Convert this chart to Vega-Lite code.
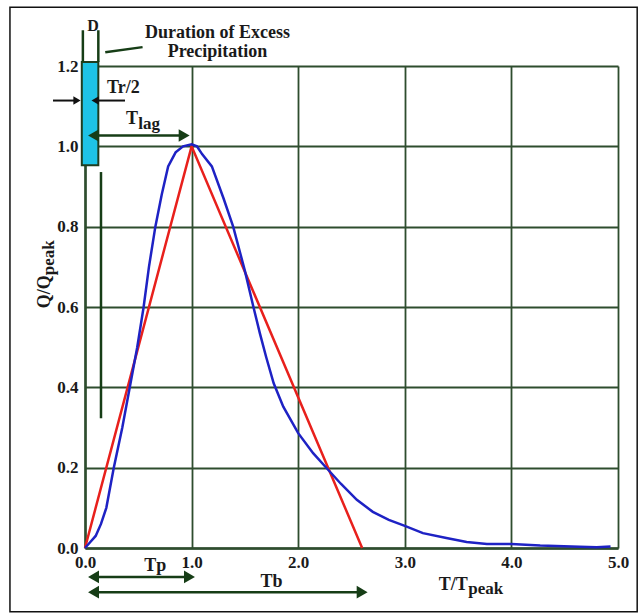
{
  "$schema": "https://vega.github.io/schema/vega-lite/v6.json",
  "width": 533,
  "height": 482,
  "autosize": {"type": "none"},
  "padding": {"left": 85, "top": 66, "right": 26, "bottom": 68},
  "background": "white",
  "config": {
    "view": {"stroke": null},
    "font": "Liberation Serif",
    "axis": {
      "labelFont": "Liberation Serif",
      "labelFontWeight": "bold",
      "labelFontSize": 17,
      "labelColor": "#1a1a1a",
      "labelFlush": false,
      "labelOverlap": false,
      "ticks": false,
      "grid": true,
      "gridColor": "#2e4d2e",
      "gridWidth": 1.8,
      "gridOpacity": 1,
      "domainColor": "#2e4d2e",
      "domainWidth": 2.5,
      "title": null,
      "format": ".1f"
    }
  },
  "datasets": {
    "su": [
      {"t": 0, "q": 0}, {"t": 0.05, "q": 0.015}, {"t": 0.1, "q": 0.03}, {"t": 0.15, "q": 0.06},
      {"t": 0.2, "q": 0.1}, {"t": 0.27, "q": 0.2}, {"t": 0.35, "q": 0.3}, {"t": 0.42, "q": 0.4},
      {"t": 0.49, "q": 0.5}, {"t": 0.55, "q": 0.6}, {"t": 0.6, "q": 0.7}, {"t": 0.66, "q": 0.8},
      {"t": 0.72, "q": 0.88}, {"t": 0.78, "q": 0.95}, {"t": 0.85, "q": 0.985}, {"t": 0.92, "q": 1.0},
      {"t": 1.0, "q": 1.005}, {"t": 1.05, "q": 1.0}, {"t": 1.1, "q": 0.98}, {"t": 1.19, "q": 0.95},
      {"t": 1.3, "q": 0.87}, {"t": 1.39, "q": 0.8}, {"t": 1.5, "q": 0.69}, {"t": 1.58, "q": 0.6},
      {"t": 1.64, "q": 0.535}, {"t": 1.7, "q": 0.475}, {"t": 1.77, "q": 0.41}, {"t": 1.86, "q": 0.352},
      {"t": 2.0, "q": 0.286}, {"t": 2.14, "q": 0.236}, {"t": 2.27, "q": 0.198}, {"t": 2.4, "q": 0.16},
      {"t": 2.55, "q": 0.12}, {"t": 2.7, "q": 0.09}, {"t": 2.85, "q": 0.07}, {"t": 3.0, "q": 0.055},
      {"t": 3.17, "q": 0.037}, {"t": 3.39, "q": 0.025}, {"t": 3.58, "q": 0.015}, {"t": 3.77, "q": 0.01},
      {"t": 4.0, "q": 0.01}, {"t": 4.27, "q": 0.006}, {"t": 4.64, "q": 0.003}, {"t": 4.8, "q": 0.002},
      {"t": 4.93, "q": 0.004}
    ],
    "tri": [{"t": 0, "q": 0}, {"t": 1, "q": 1}, {"t": 2.6, "q": 0}],
    "frame": [{"x": -0.704, "x2": 5.18, "y": 1.346, "y2": -0.159}],
    "box": [{"x": -0.03, "x2": 0.125, "y": 0.953, "y2": 1.21}],
    "greenSegs": [
      {"seg": "d1", "x": -0.02, "y": 1.21}, {"seg": "d1", "x": -0.02, "y": 1.289},
      {"seg": "d2", "x": 0.125, "y": 1.21}, {"seg": "d2", "x": 0.125, "y": 1.289},
      {"seg": "low", "x": 0.15, "y": 0.936}, {"seg": "low", "x": 0.15, "y": 0.323},
      {"seg": "lead", "x": 0.19, "y": 1.234}, {"seg": "lead", "x": 0.54, "y": 1.247},
      {"seg": "tlag", "x": 0.07, "y": 1.027}, {"seg": "tlag", "x": 0.94, "y": 1.027},
      {"seg": "tp", "x": 0.06, "y": -0.072}, {"seg": "tp", "x": 0.99, "y": -0.072},
      {"seg": "tb", "x": 0.06, "y": -0.11}, {"seg": "tb", "x": 2.62, "y": -0.11}
    ],
    "blackSegs": [
      {"seg": "a", "x": -0.3, "y": 1.114}, {"seg": "a", "x": -0.07, "y": 1.114},
      {"seg": "b", "x": 0.09, "y": 1.114}, {"seg": "b", "x": 0.375, "y": 1.114}
    ],
    "greenHeads": [
      {"x": 0.08, "y": 1.027, "dir": "left"}, {"x": 0.93, "y": 1.027, "dir": "right"},
      {"x": 0.08, "y": -0.072, "dir": "left"}, {"x": 0.98, "y": -0.072, "dir": "right"},
      {"x": 0.08, "y": -0.11, "dir": "left"}, {"x": 2.6, "y": -0.11, "dir": "right"}
    ],
    "blackHeads": [
      {"x": -0.075, "y": 1.114, "dir": "right"}, {"x": 0.095, "y": 1.114, "dir": "left"}
    ],
    "labels": [
      {"x": 1.243, "y": 1.281, "label": "Duration of Excess"},
      {"x": 1.243, "y": 1.234, "label": "Precipitation"},
      {"x": 0.36, "y": 1.144, "label": "Tr/2"},
      {"x": 0.66, "y": -0.045, "label": "Tp"},
      {"x": 1.75, "y": -0.085, "label": "Tb"}
    ],
    "dLabel": [{"x": 0.075, "y": 1.30, "label": "D"}],
    "bigT": [
      {"x": 0.497, "y": 1.055, "label": "T"},
      {"x": 3.59, "y": -0.104, "label": "T/T"}
    ],
    "subs": [
      {"x": 0.5, "y": 1.042, "label": "lag"},
      {"x": 3.595, "y": -0.114, "label": "peak"}
    ],
    "yTitle": [{"x": -0.375, "y": 0.679, "label": "Q/Q"}],
    "ySub": [{"x": -0.34, "y": 0.679, "label": "peak"}]
  },
  "encoding": {
    "x": {"field": "x", "type": "quantitative", "scale": {"domain": [0, 5], "nice": false, "zero": false},
          "axis": {"values": [0, 1, 2, 3, 4, 5], "labelPadding": 6}},
    "y": {"field": "y", "type": "quantitative", "scale": {"domain": [0, 1.2], "nice": false, "zero": false},
          "axis": {"values": [0, 0.2, 0.4, 0.6, 0.8, 1.0, 1.2], "labelPadding": 7}}
  },
  "layer": [
    {
      "data": {"name": "frame"},
      "mark": {"type": "rect", "fill": null, "stroke": "#111111", "strokeWidth": 1.5},
      "encoding": {"x2": {"field": "x2"}, "y2": {"field": "y2"}}
    },
    {
      "data": {"name": "box"},
      "mark": {"type": "rect", "fill": "#1ec3e6", "stroke": "#1f3d1f", "strokeWidth": 2},
      "encoding": {"x2": {"field": "x2"}, "y2": {"field": "y2"}}
    },
    {
      "data": {"name": "greenSegs"},
      "mark": {"type": "line", "color": "#163d16", "strokeWidth": 2.5},
      "encoding": {"detail": {"field": "seg"}, "order": {"field": "x"}}
    },
    {
      "data": {"name": "blackSegs"},
      "mark": {"type": "line", "color": "#111111", "strokeWidth": 2},
      "encoding": {"detail": {"field": "seg"}}
    },
    {
      "data": {"name": "greenHeads"},
      "mark": {"type": "point", "filled": true, "color": "#163d16", "opacity": 1, "size": 160},
      "encoding": {"shape": {"field": "dir", "type": "nominal", "scale": {"domain": ["left", "right"], "range": ["triangle-left", "triangle-right"]}, "legend": null}}
    },
    {
      "data": {"name": "blackHeads"},
      "mark": {"type": "point", "filled": true, "color": "#111111", "opacity": 1, "size": 70},
      "encoding": {"shape": {"field": "dir", "type": "nominal", "scale": {"domain": ["left", "right"], "range": ["triangle-left", "triangle-right"]}, "legend": null}}
    },
    {
      "data": {"name": "tri"},
      "mark": {"type": "line", "color": "#e8201c", "strokeWidth": 2.5},
      "encoding": {"x": {"field": "t", "type": "quantitative"}, "y": {"field": "q", "type": "quantitative"}}
    },
    {
      "data": {"name": "su"},
      "mark": {"type": "line", "color": "#1e22c4", "strokeWidth": 2.5},
      "encoding": {"x": {"field": "t", "type": "quantitative"}, "y": {"field": "q", "type": "quantitative"}}
    },
    {
      "data": {"name": "labels"},
      "mark": {"type": "text", "font": "Liberation Serif", "fontWeight": "bold", "fontSize": 18, "color": "#1a1a1a", "baseline": "middle", "align": "center"},
      "encoding": {"text": {"field": "label"}}
    },
    {
      "data": {"name": "dLabel"},
      "mark": {"type": "text", "font": "Liberation Serif", "fontWeight": "bold", "fontSize": 16, "color": "#1a1a1a", "baseline": "middle", "align": "center"},
      "encoding": {"text": {"field": "label"}}
    },
    {
      "data": {"name": "bigT"},
      "mark": {"type": "text", "font": "Liberation Serif", "fontWeight": "bold", "fontSize": 18, "color": "#1a1a1a", "baseline": "alphabetic", "align": "right"},
      "encoding": {"text": {"field": "label"}}
    },
    {
      "data": {"name": "subs"},
      "mark": {"type": "text", "font": "Liberation Serif", "fontWeight": "bold", "fontSize": 17, "color": "#1a1a1a", "baseline": "alphabetic", "align": "left"},
      "encoding": {"text": {"field": "label"}}
    },
    {
      "data": {"name": "yTitle"},
      "mark": {"type": "text", "font": "Liberation Serif", "fontWeight": "bold", "fontSize": 18, "color": "#1a1a1a", "baseline": "middle", "align": "right", "angle": 270},
      "encoding": {"text": {"field": "label"}}
    },
    {
      "data": {"name": "ySub"},
      "mark": {"type": "text", "font": "Liberation Serif", "fontWeight": "bold", "fontSize": 17, "color": "#1a1a1a", "baseline": "middle", "align": "left", "angle": 270},
      "encoding": {"text": {"field": "label"}}
    }
  ]
}
